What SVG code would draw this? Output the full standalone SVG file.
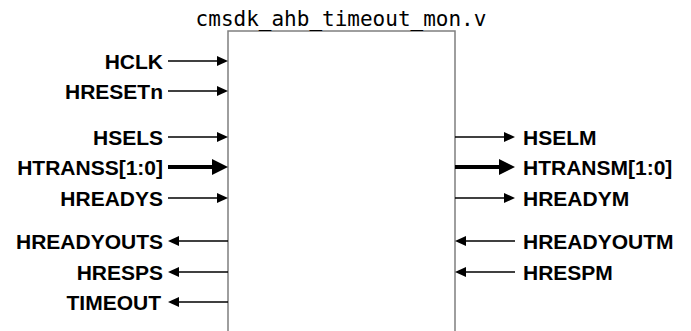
<svg xmlns="http://www.w3.org/2000/svg" width="691" height="331" viewBox="0 0 691 331">
  <style>
    .lbl { font-family: "Liberation Sans", Arial, sans-serif; font-weight: bold; font-size: 21px; fill: #000; }
    .l { text-anchor: end; }
    .r { text-anchor: start; }
    .title { font-family: "DejaVu Sans Mono", "Liberation Mono", monospace; font-size: 21px; fill: #000; text-anchor: middle; }
    .box { fill: #fff; stroke: #7f7f7f; stroke-width: 1.5; }
    .sig { stroke: #000; stroke-width: 1.3; fill: none; marker-end: url(#ah); }
    .bus { stroke: #000; stroke-width: 4; fill: none; marker-end: url(#ahb); }
  </style>
  <defs>
    <marker id="ah" markerUnits="userSpaceOnUse" markerWidth="11" markerHeight="10" viewBox="0 0 11 10" refX="0" refY="5" orient="auto">
      <path d="M0,0 L11,5 L0,10 z" fill="#000"/>
    </marker>
    <marker id="ahb" markerUnits="userSpaceOnUse" markerWidth="16" markerHeight="16" viewBox="0 0 16 16" refX="0" refY="8" orient="auto">
      <path d="M0,0 L16,8 L0,16 z" fill="#000"/>
    </marker>
  </defs>
  <rect width="691" height="331" fill="#fff"/>

  <g id="module">
    <path class="box" d="M228,340 L228,31 L455,31 L455,340"/>
    <text class="title" x="341" y="26">cmsdk_ahb_timeout_mon.v</text>
  </g>

  <g id="connectors">
    <line class="sig" x1="168" y1="61" x2="217" y2="61"/>
    <line class="sig" x1="168" y1="91" x2="217" y2="91"/>
    <line class="sig" x1="168" y1="137" x2="217" y2="137"/>
    <line class="bus" x1="168" y1="167" x2="212" y2="167"/>
    <line class="sig" x1="168" y1="198" x2="217" y2="198"/>
    <line class="sig" x1="228" y1="241" x2="179" y2="241"/>
    <line class="sig" x1="228" y1="272" x2="179" y2="272"/>
    <line class="sig" x1="228" y1="302" x2="179" y2="302"/>
    <line class="sig" x1="455" y1="137" x2="504" y2="137"/>
    <line class="bus" x1="455" y1="167" x2="499" y2="167"/>
    <line class="sig" x1="455" y1="198" x2="504" y2="198"/>
    <line class="sig" x1="515" y1="241" x2="466" y2="241"/>
    <line class="sig" x1="515" y1="272" x2="466" y2="272"/>
  </g>

  <g id="port-HCLK"><text class="lbl l" x="163" y="68.5">HCLK</text></g>
  <g id="port-HRESETn"><text class="lbl l" x="163" y="98.5">HRESETn</text></g>
  <g id="port-HSELS"><text class="lbl l" x="163" y="144.5">HSELS</text></g>
  <g id="port-HTRANSS"><text class="lbl l" x="163" y="174.5">HTRANSS[1:0]</text></g>
  <g id="port-HREADYS"><text class="lbl l" x="163" y="205.5">HREADYS</text></g>
  <g id="port-HREADYOUTS"><text class="lbl l" x="163" y="248.5">HREADYOUTS</text></g>
  <g id="port-HRESPS"><text class="lbl l" x="163" y="279.5">HRESPS</text></g>
  <g id="port-TIMEOUT"><text class="lbl l" x="161" y="309.5">TIMEOUT</text></g>

  <g id="port-HSELM"><text class="lbl r" x="523" y="144.5">HSELM</text></g>
  <g id="port-HTRANSM"><text class="lbl r" x="523" y="174.5">HTRANSM[1:0]</text></g>
  <g id="port-HREADYM"><text class="lbl r" x="523" y="205.5">HREADYM</text></g>
  <g id="port-HREADYOUTM"><text class="lbl r" x="523" y="248.5">HREADYOUTM</text></g>
  <g id="port-HRESPM"><text class="lbl r" x="523" y="279.5">HRESPM</text></g>
</svg>
